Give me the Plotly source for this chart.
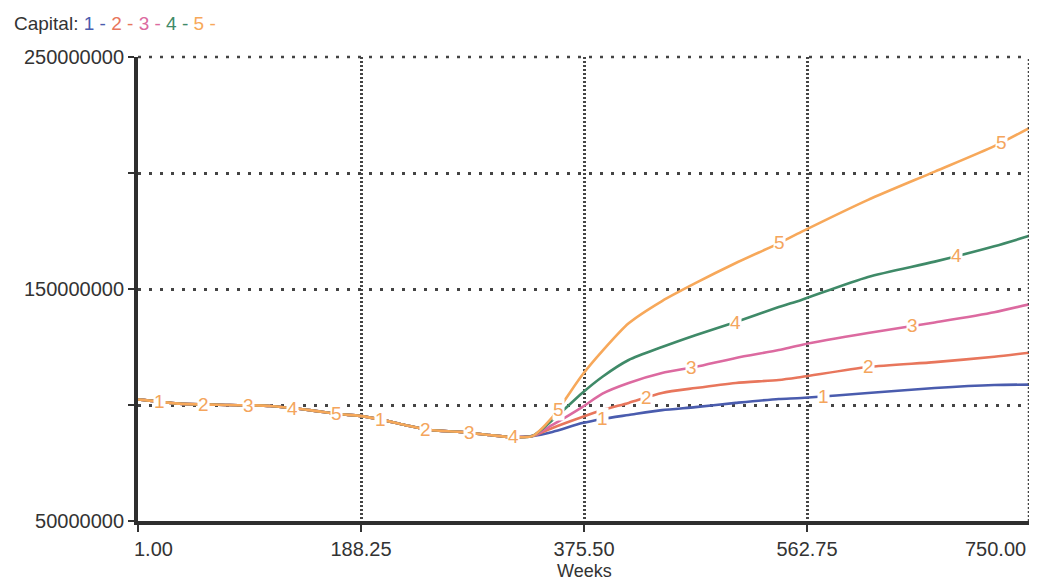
import numpy as np
import plotly.graph_objects as go

# ---- data (values in millions) ----
common_weeks = [1, 5, 36, 78, 112, 145, 169, 187, 205, 225, 246, 271, 296, 313, 332]
common_vals = [102.4, 102.2, 100.6, 100.0, 99.6, 97.8, 96.1, 95.3, 93.7, 91.4, 89.2, 88.4, 87.1, 86.2, 86.6]

branch_weeks = [332, 349, 374, 391, 413, 441, 469, 503, 539, 558, 614, 670, 720, 750]
series1 = [86.6, 88.4, 92.2, 94.0, 95.7, 97.8, 99.1, 100.9, 102.6, 103.0, 105.2, 107.3, 108.6, 108.8]
series2 = [86.6, 90.1, 94.8, 97.8, 100.9, 105.2, 107.3, 109.5, 110.8, 112.1, 116.4, 118.5, 120.8, 122.6]
series3 = [86.6, 91.4, 99.1, 104.9, 109.5, 113.8, 116.4, 120.3, 123.7, 125.9, 131.0, 135.6, 140.0, 143.5]
series4 = [86.6, 93.5, 105.2, 112.2, 119.4, 125.0, 130.1, 135.8, 142.2, 145.3, 155.2, 161.8, 168.4, 173.0]
series5 = [86.6, 94.8, 112.9, 123.3, 135.2, 144.8, 152.5, 161.2, 169.7, 174.6, 188.4, 200.6, 211.6, 219.5]

series_names = ["1", "2", "3", "4", "5"]
series_colors = ["#4a5cae", "#e8765c", "#dc6aa0", "#3f8a68", "#f7a85a"]
label_color = "#f4a55c"

x_tickvals = [1, 188.25, 375.5, 562.75, 750]
x_ticktext = ["1.00", "188.25", "375.50", "562.75", "750.00"]
y_tickvals = [50e6, 100e6, 150e6, 200e6, 250e6]
y_ticktext = ["50000000", "", "150000000", "", "250000000"]

FONT = "Liberation Sans, Arial, sans-serif"

# page body margin offset (8px) compensation
OFF = 8
L, T = 138 - OFF, 57 - OFF
W = 1030 - OFF + 7
R = 7
B = 59
H = (521 - OFF) + B
pw, ph = W - L - R, H - T - B

all_series = [series1, series2, series3, series4, series5]
fig = go.Figure()
full = []
for name, col, vals in zip(series_names, series_colors, all_series):
    w = np.array(common_weeks[:-1] + branch_weeks, dtype=float)
    v = np.array(common_vals[:-1] + vals, dtype=float) * 1e6
    full.append((w, v))
    fig.add_trace(go.Scatter(x=w, y=v, mode="lines", name=name,
                             line=dict(color=col, width=2.6, shape="spline", smoothing=0.7),
                             hoverinfo="skip"))

annotations = []
for k in range(20):
    wk = 19 + 37.2 * k
    s = k % 5
    w, v = full[s]
    yv = float(np.interp(wk, w, v))
    annotations.append(dict(x=wk, y=yv, xref="x", yref="y", text=series_names[s],
                            showarrow=False, font=dict(family=FONT, size=19, color=label_color),
                            bgcolor="white", borderpad=0, xanchor="center", yanchor="middle"))

legend_html = ('<span style="color:#333">Capital: </span>'
               + " ".join(f'<span style="color:{c}">{n} -</span>' for n, c in zip(series_names, series_colors)))
annotations.append(dict(x=(12 - OFF - L) / pw, y=(H - B - (23 - OFF)) / ph, xref="paper", yref="paper",
                        text=legend_html, showarrow=False,
                        font=dict(family=FONT, size=19), xanchor="left", yanchor="middle"))
annotations.append(dict(x=1, y=50e6, xref="x", yref="y", text=x_ticktext[0], showarrow=False,
                        font=dict(family=FONT, size=20, color="#333"), xanchor="left", yanchor="top",
                        xshift=-6, yshift=-15))
annotations.append(dict(x=750, y=50e6, xref="x", yref="y", text=x_ticktext[-1], showarrow=False,
                        font=dict(family=FONT, size=20, color="#333"), xanchor="right", yanchor="top",
                        xshift=-2, yshift=-15))
annotations.append(dict(x=0.5, y=(521 - 571) / ph, xref="paper", yref="paper", text="Weeks", showarrow=False,
                        font=dict(family=FONT, size=18, color="#333"), xanchor="center", yanchor="middle"))

xr = 1 - 1.0 / pw
shapes = [
    dict(type="line", xref="paper", yref="paper", x0=0, x1=1, y0=1, y1=1,
         line=dict(color="#444", width=2.5, dash="3px,8px"), layer="above"),
    dict(type="line", xref="paper", yref="paper", x0=xr, x1=xr, y0=0, y1=1,
         line=dict(color="#444", width=2.5, dash="2px,2px"), layer="above"),
]

fig.update_layout(
    width=W, height=H,
    margin=dict(l=L, r=R, t=T, b=B, autoexpand=False),
    paper_bgcolor="white", plot_bgcolor="white",
    showlegend=False,
    font=dict(family=FONT, size=20, color="#333"),
    annotations=annotations,
    shapes=shapes,
    xaxis=dict(range=[1, 750], tickmode="array", tickvals=x_tickvals,
               ticktext=[""] + x_ticktext[1:-1] + [""],
               showgrid=True, gridcolor="#444", gridwidth=2.5, griddash="2px,2px",
               showline=True, linecolor="#2e2e2e", linewidth=4,
               ticks="outside", ticklen=7, tickwidth=2, tickcolor="#333",
               zeroline=False, automargin=False,
               tickfont=dict(family=FONT, size=20, color="#333")),
    yaxis=dict(range=[50e6, 250e6], tickmode="array", tickvals=y_tickvals, ticktext=y_ticktext,
               showgrid=True, gridcolor="#444", gridwidth=2.5, griddash="3px,8px",
               showline=True, linecolor="#2e2e2e", linewidth=4,
               ticks="outside", ticklen=6, tickwidth=2, tickcolor="#333",
               zeroline=False, automargin=False,
               tickfont=dict(family=FONT, size=20, color="#333")),
)

fig.write_html("out.html")
